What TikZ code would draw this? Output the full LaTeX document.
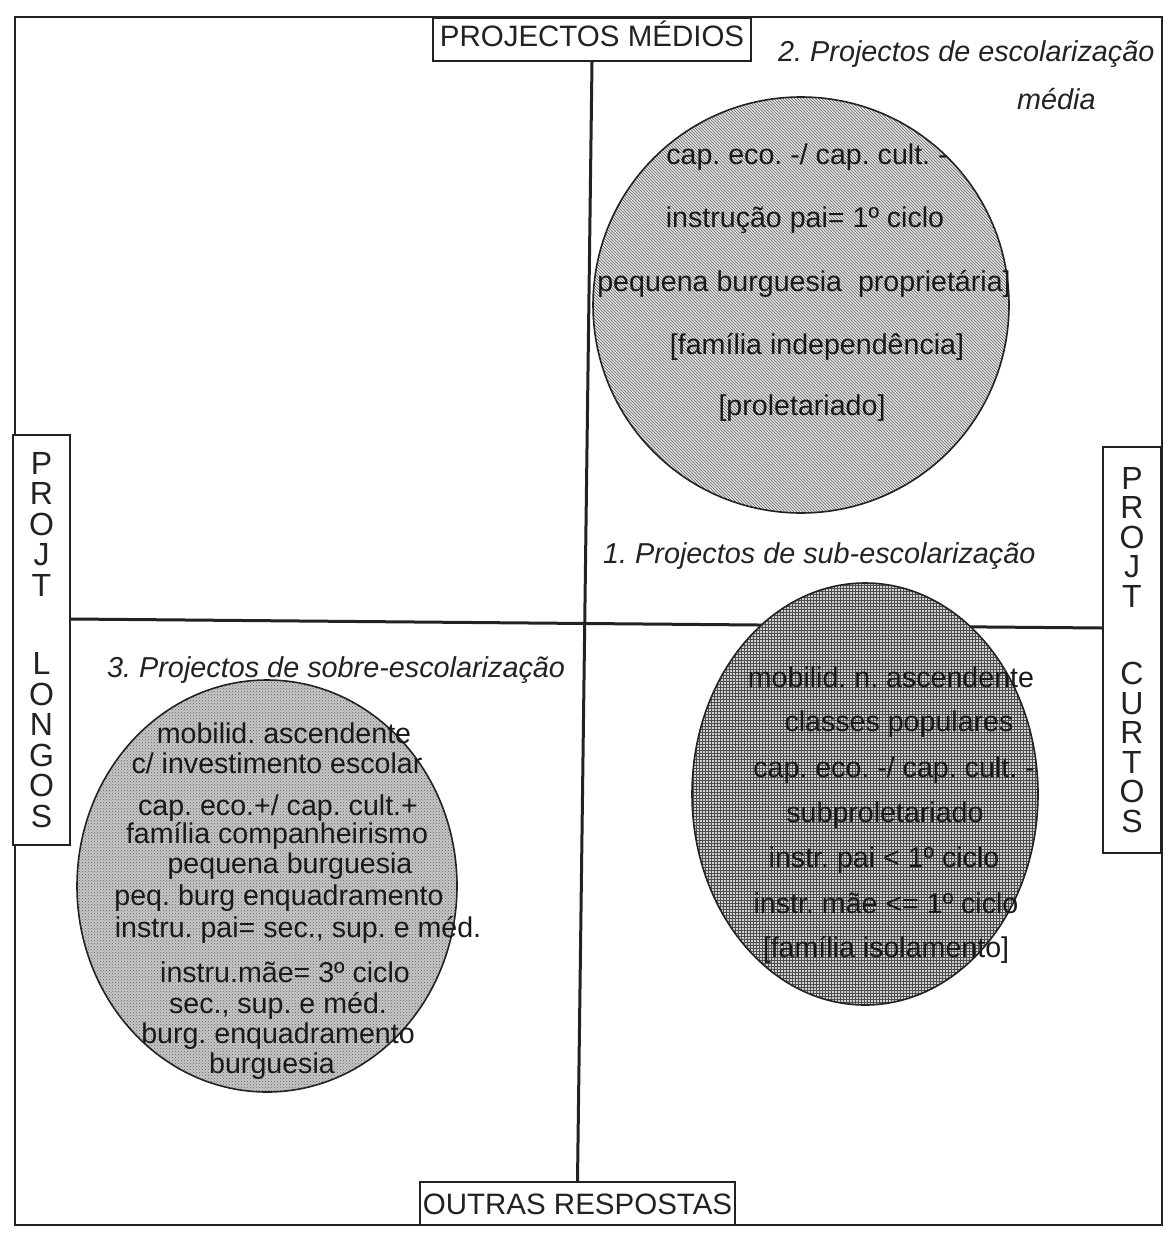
\documentclass[tikz,border=0pt]{standalone}
\usepackage{fontspec}
\setmainfont{Liberation Sans}
\usetikzlibrary{patterns}
\definecolor{ink}{HTML}{222222}
\frenchspacing
\begin{document}
\begin{tikzpicture}[x=1pt,y=-1pt,
  lblbox/.style={draw=ink, line width=2pt, inner sep=0pt, fill=white, text=ink},
  ctext/.style={anchor=base, font=\fontsize{28.6}{30}\selectfont, text=black!90, inner sep=0pt},
  ttl/.style={anchor=base west, font=\fontsize{28.8}{30}\selectfont\itshape, text=ink, inner sep=0pt},
  axisline/.style={draw=ink, line width=3pt},
  blob/.style={draw=ink, line width=1.6pt}]
\useasboundingbox (0,0) rectangle (1165,1233);
% outer frame
\draw[ink, line width=2.2pt] (15,17) rectangle (1162,1225);
% label boxes
\node[lblbox, minimum width=318pt, minimum height=43pt, text height=22pt, text depth=7pt,
  font=\fontsize{29.5}{30}\selectfont] (tbox) at (592,39.5) {PROJECTOS MÉDIOS};
\node[lblbox, minimum width=315pt, minimum height=43pt, text height=22pt, text depth=0pt,
  font=\fontsize{29.5}{30}\selectfont] (bbox) at (577.5,1203.5) {OUTRAS RESPOSTAS};
\node[lblbox, minimum width=57pt, minimum height=410pt, align=center,
  font=\fontsize{32}{30.5}\selectfont] (lbox) at (41.5,640)
  {P\\R\\O\\J\\T\\[48pt]L\\O\\N\\G\\O\\S};
\node[lblbox, minimum width=58pt, minimum height=406pt, align=center,
  font=\fontsize{32}{29.5}\selectfont] (rbox) at (1132,650)
  {P\\R\\O\\J\\T\\[48pt]C\\U\\R\\T\\O\\S};
% axes
\draw[axisline] (tbox.south) -- (bbox.north);
\draw[axisline] ([yshift=21pt]lbox.east) -- ([yshift=22pt]rbox.west);
% circle 2 (upper right)
\path[fill=gray!20] (801,305) circle (208);
\path[pattern=north west lines, pattern color=black!62] (801,305) circle (208);
\draw[blob] (801,305) circle (208);
% circle 1 (lower right)
\path[fill=gray!36] (865,794) ellipse (173 and 211);
\path[pattern=grid, pattern color=black!70] (865,794) ellipse (173 and 211);
\draw[blob] (865,794) ellipse (173 and 211);
% circle 3 (lower left)
\path[fill=gray!44] (267,886) ellipse (190 and 206);
\path[pattern=crosshatch dots, pattern color=black!62] (267,886) ellipse (190 and 206);
\draw[blob] (267,886) ellipse (190 and 206);
% titles
\node[ttl] (t2) at (778,62) {2. Projectos de escolarização};
\node[ttl] (t2b) at (1017,110) {média};
\node[ttl] (t1) at (603,563) {1. Projectos de sub-escolarização};
\node[ttl] (t3) at (107,677) {3. Projectos de sobre-escolarização};
% circle 2 text
\node[ctext] (c2a) at (807,165) {cap. eco. -/ cap. cult. -};
\node[ctext] (c2b) at (805,228) {instrução pai= 1º ciclo};
\node[ctext] (c2c) at (804,291) {pequena burguesia\ \ proprietária]};
\node[ctext] (c2d) at (817,354) {[família independência]};
\node[ctext] (c2e) at (802,415) {[proletariado]};
% circle 1 text
\node[ctext] (c1a) at (891,687) {mobilid. n. ascendente};
\node[ctext] (c1b) at (899,731) {classes populares};
\node[ctext] (c1c) at (894,777) {cap. eco. -/ cap. cult. -};
\node[ctext] (c1d) at (885,822) {subproletariado};
\node[ctext] (c1e) at (884,867) {instr. pai < 1º ciclo};
\node[ctext] (c1f) at (886,913) {instr. mãe <= 1º ciclo};
\node[ctext] (c1g) at (886,957) {[família isolamento]};
% circle 3 text
\node[ctext] (c3a) at (284,743) {mobilid. ascendente};
\node[ctext] (c3b) at (277,773) {c/ investimento escolar};
\node[ctext] (c3c) at (278,815) {cap. eco.+/ cap. cult.+};
\node[ctext] (c3d) at (277,843) {família companheirismo};
\node[ctext] (c3e) at (290,873) {pequena burguesia};
\node[ctext] (c3f) at (279,905) {peq. burg enquadramento};
\node[ctext] (c3g) at (298,937) {instru. pai= sec., sup. e méd.};
\node[ctext] (c3h) at (285,982) {instru.mãe= 3º ciclo};
\node[ctext] (c3i) at (278,1013) {sec., sup. e méd.};
\node[ctext] (c3j) at (278,1043) {burg. enquadramento};
\node[ctext] (c3k) at (272,1073) {burguesia};
\end{tikzpicture}
\end{document}
